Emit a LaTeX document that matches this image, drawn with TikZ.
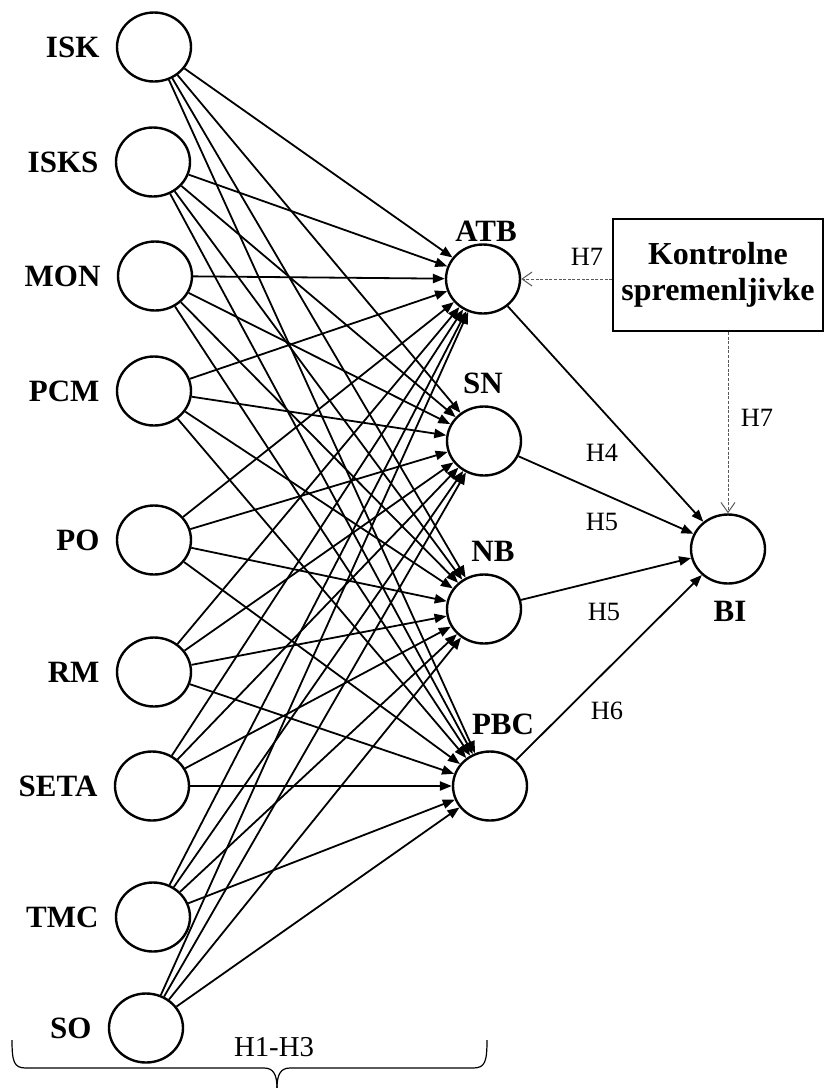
\documentclass[tikz,border=0pt]{standalone}
\usepackage{fontspec}
\setmainfont{Liberation Serif}
\usetikzlibrary{arrows.meta,positioning,shapes.geometric}

\begin{document}
\begin{tikzpicture}[x=0.5pt,y=-0.5pt,>={Triangle[length=6pt,width=4.6pt]},
  krog/.style={draw,ellipse,line width=1.2pt,minimum width=37pt,minimum height=34.5pt,inner sep=0pt},
  oznaka/.style={font=\bfseries\fontsize{15.5}{17}\selectfont,inner sep=0pt},
  hip/.style={font=\fontsize{13.2}{15}\selectfont,inner sep=0pt},
  veza/.style={->,line width=0.9pt},
  kontr/.style={-{Straight Barb[length=5pt,width=7pt]},dash pattern=on 1.5pt off 0.8pt,line width=0.5pt,draw=black!65}]
\useasboundingbox (0,0) rectangle (826,1088);
% vhodne spremenljivke
\foreach \n/\x/\y in {ISK/154/47,ISKS/153/162,MON/155/276,PCM/154/391,PO/154/540,RM/154/672,SETA/152/786,TMC/153/917,SO/146/1028}{
  \node[krog] (\n) at (\x,\y) {};
  \node[oznaka,left=8pt of \n] (l\n) {\n};
}
% mediatorji in BI
\node[krog] (ATB) at (483,279) {};
\node[krog] (SN) at (484,441) {};
\node[krog] (NB) at (484,609) {};
\node[krog] (PBC) at (490,786) {};
\node[krog] (BI) at (728,549) {};
\node[oznaka] (lATB) at (486,231) {ATB};
\node[oznaka] (lSN) at (483,383) {SN};
\node[oznaka] (lNB) at (493,551) {NB};
\node[oznaka] (lPBC) at (503,724) {PBC};
\node[oznaka] (lBI) at (730,611) {BI};
% povezave
\foreach \a in {ISK,ISKS,MON,PCM,PO,RM,SETA,TMC,SO}
  \foreach \b in {ATB,SN,NB,PBC}
    \draw[veza] (\a) -- (\b);
\foreach \b in {ATB,SN,NB,PBC} \draw[veza] (\b) -- (BI);
% kontrolne spremenljivke
\node[draw,line width=0.9pt,minimum width=105pt,minimum height=56pt,align=center,font=\bfseries\fontsize{16}{18}\selectfont] (kontrola) at (718,275) {Kontrolne\\spremenljivke};
\draw[kontr] (kontrola.west |- ATB) -- (ATB);
\draw[kontr] (kontrola.south -| BI) -- (BI);
% hipoteze
\node[hip] (h7a) at (587,257) {H7};
\node[hip] (h7b) at (757,418) {H7};
\node[hip] (h4) at (602,453) {H4};
\node[hip] (h5a) at (602,522) {H5};
\node[hip] (h5b) at (604,612) {H5};
\node[hip] (h6) at (607,711) {H6};
\node[hip,font=\fontsize{14.4}{16}\selectfont] (h13) at (274,1047) {H1-H3};
% oklepaj
\draw[line width=0.6pt] (12,1040) .. controls (12,1062) and (14,1068) .. (26,1068) -- (264,1068) .. controls (273,1068) and (277,1074) .. (277,1088);
\draw[line width=0.6pt] (487,1040) .. controls (487,1062) and (485,1068) .. (473,1068) -- (290,1068) .. controls (281,1068) and (277,1074) .. (277,1088);
\end{tikzpicture}
\end{document}
